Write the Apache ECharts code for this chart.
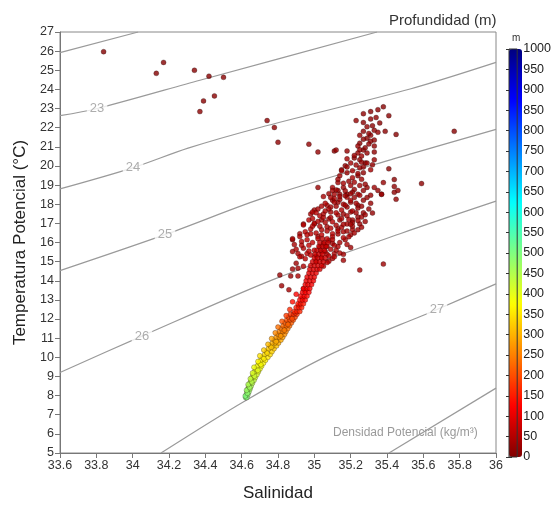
<!DOCTYPE html>
<html lang="es" style="height: 100%">

<head>
    <meta charset="utf-8">
</head>

<body style="height: 100%; margin: 0; background: #ffffff;">
    <div id="container" style="width: 554px; height: 507px"></div>

    <script type="text/javascript" src="https://cdn.jsdelivr.net/npm/echarts@6/dist/echarts.min.js"></script>
    <script type="text/javascript">
        // isopicnas (sigma-theta): [salinidad, temperatura]
        var sigma22 = [[33.6, 25.92], [34.03, 27.0]];
        var sigma23 = [[33.6, 22.63], [33.80, 22.99], [34.37, 24.48], [35.345, 27.0]];
        var sigma24 = [[33.6, 18.80], [34.0, 19.90], [34.305, 20.93], [34.70, 22.01], [35.527, 24.02], [36.0, 25.41]];
        var sigma25 = [[33.6, 14.53], [34.178, 16.41], [34.745, 18.41], [35.527, 20.62], [36.0, 21.91]];
        var sigma26 = [[33.6, 9.21], [34.051, 11.11], [34.783, 14.10], [35.472, 16.46], [36.0, 18.16]];
        var sigma27 = [[34.156, 5.0], [34.618, 7.72], [35.086, 10.14], [35.675, 12.50], [36.0, 13.84]];
        var sigma28 = [[35.411, 5.0], [36.0, 8.39]];
        var isoLines = [sigma22, sigma23, sigma24, sigma25, sigma26, sigma27, sigma28];
        var isoLabels = [[33.804, 22.99, '23'], [34.002, 19.90, '24'], [34.178, 16.41, '25'], [34.051, 11.11, '26'], [35.675, 12.50, '27']];

        // datos CTD: [salinidad, temperatura potencial, profundidad (m)]
        var surfaceOutliers = [
            [33.84, 25.97, 4], [34.13, 24.84, 6], [34.17, 25.41, 5], [34.34, 25.00, 8], [34.42, 24.69, 7], [34.50, 24.63, 10],
            [34.37, 22.84, 12], [34.39, 23.40, 9], [34.45, 23.66, 11], [34.74, 22.37, 14], [34.78, 22.01, 12], [34.80, 21.24, 16],
            [34.97, 21.14, 18], [35.02, 20.73, 20], [35.11, 20.78, 15], [35.12, 20.83, 22], [35.02, 18.88, 25], [35.77, 21.81, 8],
            [35.59, 19.08, 13], [35.45, 18.26, 20], [35.46, 18.72, 18], [35.38, 14.87, 30], [35.25, 14.56, 35], [35.16, 15.07, 32],
            [35.20, 15.74, 28]
        ];
        var upperCloud = [
            [35.38, 23.09, 8], [35.35, 22.94, 12], [35.31, 22.84, 5], [35.27, 22.73, 15], [35.41, 22.63, 10], [35.23, 22.37, 18],
            [35.27, 22.27, 9], [35.34, 22.53, 14], [35.39, 21.81, 11], [35.45, 21.65, 7], [35.33, 21.86, 16], [35.35, 21.76, 20],
            [35.27, 21.81, 13], [35.31, 21.60, 22], [35.29, 21.45, 10], [35.31, 21.29, 25], [35.33, 21.04, 17], [35.25, 21.19, 12],
            [35.24, 21.04, 28], [35.27, 20.83, 19], [35.24, 20.68, 24], [35.22, 20.42, 15], [35.26, 20.52, 30], [35.29, 20.68, 21],
            [35.33, 20.73, 14], [35.33, 20.32, 26], [35.18, 20.78, 20], [35.18, 20.37, 32], [35.25, 20.32, 18], [35.28, 20.16, 27],
            [35.41, 19.85, 12], [35.44, 19.29, 9], [35.44, 18.93, 16], [35.38, 19.13, 22], [35.33, 18.88, 30], [35.37, 18.52, 19],
            [35.44, 18.62, 13], [35.32, 20.06, 24], [35.31, 19.80, 35], [35.15, 19.80, 28], [35.17, 20.01, 22], [35.14, 19.49, 33],
            [35.18, 19.65, 26], [35.21, 19.39, 38], [35.24, 19.49, 21], [35.25, 19.90, 29], [35.27, 19.65, 17], [35.10, 18.88, 40],
            [35.13, 18.72, 32], [35.16, 18.88, 27], [35.20, 18.98, 36], [35.22, 18.77, 23], [35.25, 18.98, 31], [35.29, 18.88, 19],
            [35.13, 19.13, 34], [35.11, 18.52, 42], [35.18, 18.52, 29], [35.24, 18.52, 37], [35.31, 18.47, 25], [35.35, 18.72, 20],
            [35.13, 19.30, 30], [35.16, 19.10, 36], [35.19, 19.20, 24], [35.22, 19.15, 33], [35.26, 19.30, 28], [35.28, 19.05, 22],
            [35.15, 19.75, 31], [35.18, 19.95, 25], [35.21, 19.75, 38], [35.24, 19.60, 27], [35.27, 19.95, 20], [35.29, 20.15, 23],
            [35.20, 20.15, 34], [35.23, 20.05, 29], [35.26, 20.20, 18], [35.22, 20.55, 26], [35.25, 20.85, 21], [35.28, 20.95, 15],
            [35.30, 21.15, 19], [35.27, 21.40, 12], [35.33, 21.35, 16], [35.30, 21.70, 14], [35.25, 21.60, 24], [35.32, 22.10, 11],
            [35.29, 22.05, 17], [35.36, 22.25, 9], [35.31, 22.45, 13]
        ];
        var midCloud = [
            [35.10, 18.72, 35], [35.14, 18.52, 28], [35.18, 18.36, 40], [35.21, 18.62, 24], [35.25, 18.47, 33], [35.27, 18.72, 21],
            [35.37, 18.52, 26], [35.10, 18.21, 38], [35.07, 17.95, 45], [35.13, 18.10, 30], [35.16, 18.00, 41], [35.20, 18.10, 27],
            [35.24, 17.95, 36], [35.27, 18.21, 22], [34.99, 17.59, 48], [35.02, 17.75, 39], [35.05, 17.49, 52], [35.09, 17.59, 33],
            [35.13, 17.44, 44], [35.16, 17.49, 29], [35.20, 17.59, 37], [35.24, 17.33, 25], [35.26, 17.33, 31], [35.30, 17.75, 20],
            [35.32, 17.54, 18], [34.97, 17.18, 55], [35.00, 16.97, 47], [35.04, 17.18, 40], [35.08, 17.23, 35], [35.10, 17.08, 50],
            [35.14, 17.18, 28], [35.18, 16.97, 42], [35.21, 17.18, 33], [35.25, 16.97, 26], [35.21, 16.67, 38], [34.94, 16.92, 50],
            [34.95, 16.56, 58], [34.92, 16.31, 45], [34.88, 16.20, 35], [34.89, 15.89, 40], [34.93, 16.05, 52], [34.98, 16.46, 60],
            [35.02, 16.31, 48], [35.04, 16.67, 44], [35.07, 16.82, 39], [35.10, 16.46, 55], [35.13, 16.72, 32], [35.16, 16.56, 41],
            [35.20, 16.41, 36], [35.24, 16.67, 27], [35.17, 16.15, 46], [35.13, 15.79, 50], [35.10, 15.95, 43], [34.88, 15.53, 38],
            [34.91, 15.43, 42], [34.93, 15.28, 55], [34.96, 15.43, 62], [35.06, 15.53, 58], [35.07, 15.38, 54], [35.10, 15.17, 47],
            [35.11, 15.43, 40], [35.16, 15.38, 36], [35.06, 15.79, 52], [35.05, 14.76, 60], [35.08, 15.02, 50],
            [35.05, 18.40, 36], [35.08, 18.55, 30], [35.11, 18.30, 42], [35.14, 18.25, 34], [35.17, 18.45, 28], [35.20, 18.20, 39],
            [35.22, 18.35, 25], [35.06, 18.05, 47], [35.09, 17.85, 40], [35.12, 17.90, 33], [35.15, 17.70, 45], [35.18, 17.85, 30],
            [35.21, 17.65, 37], [35.24, 17.80, 26], [35.27, 17.55, 22], [35.03, 17.40, 50], [35.06, 17.65, 43], [35.09, 17.30, 38],
            [35.12, 17.55, 46], [35.15, 17.25, 34], [35.18, 17.40, 41], [35.21, 17.05, 29], [35.24, 17.15, 35], [35.00, 17.00, 55],
            [35.03, 16.85, 48], [35.06, 17.05, 42], [35.09, 16.75, 52], [35.12, 16.90, 37], [35.15, 16.80, 44], [35.18, 16.60, 31],
            [35.21, 16.85, 39], [34.98, 16.70, 57], [35.01, 16.50, 50], [35.04, 16.40, 62], [35.07, 16.60, 45], [35.10, 16.30, 53],
            [35.13, 16.45, 40], [35.16, 16.25, 47], [34.96, 16.15, 58], [34.99, 16.00, 64], [35.02, 16.20, 55], [35.05, 15.95, 60],
            [35.08, 16.10, 49], [35.11, 15.85, 44], [35.14, 16.00, 38], [34.94, 15.70, 50], [34.97, 15.85, 62], [35.00, 15.60, 66],
            [35.03, 15.75, 58], [35.09, 15.65, 48], [35.12, 15.60, 42], [34.92, 15.25, 52], [34.95, 15.15, 60], [34.98, 15.35, 68],
            [35.01, 15.05, 64], [35.04, 15.20, 58], [35.07, 14.95, 55]
        ];
        var cloudExtra = [
            [34.96, 16.40, 55], [34.99, 16.85, 50], [35.02, 17.10, 46], [35.05, 17.30, 44], [35.08, 17.75, 40], [35.11, 18.10, 36],
            [35.14, 18.40, 32], [35.17, 18.70, 30], [35.20, 18.55, 28], [35.23, 18.05, 33], [35.26, 17.90, 25], [35.28, 17.45, 28],
            [35.29, 18.35, 21], [35.31, 18.05, 23], [35.23, 17.55, 31], [35.19, 17.20, 37], [35.16, 16.95, 39], [35.13, 16.60, 44],
            [35.10, 16.15, 49], [35.07, 15.80, 54], [35.04, 15.50, 60], [35.01, 15.30, 64], [34.97, 15.55, 58], [34.93, 15.85, 50],
            [34.90, 15.65, 45], [35.19, 16.30, 40], [35.22, 16.50, 34], [35.26, 16.80, 30], [35.28, 17.10, 26], [35.14, 15.45, 45],
            [35.18, 15.90, 42], [35.11, 15.25, 52], [35.08, 15.30, 56], [35.20, 16.95, 35], [35.17, 17.95, 33], [35.12, 18.75, 30],
            [35.09, 18.35, 38], [35.04, 17.90, 45], [35.01, 17.55, 50], [34.99, 17.25, 52]
        ];
        var leftScatter = [
            [34.90, 14.92, 30], [34.91, 14.66, 35], [34.88, 14.61, 28], [34.94, 14.76, 45], [34.87, 14.25, 25], [34.81, 14.30, 22],
            [34.82, 13.74, 30], [34.86, 13.53, 35], [34.91, 14.25, 40], [34.94, 13.58, 50], [34.88, 16.15, 30], [34.92, 16.46, 38],
            [34.94, 16.97, 33], [34.98, 17.49, 40], [35.00, 17.70, 36]
        ];
        var redCore = [
            [34.89, 12.4, 160], [34.905, 12.4, 158], [34.92, 12.4, 162], [34.90, 12.6, 150], [34.915, 12.6, 148], [34.93, 12.6, 152],
            [34.91, 12.8, 145], [34.925, 12.8, 143], [34.94, 12.8, 147], [34.92, 13.0, 135], [34.935, 13.0, 137], [34.95, 13.0, 133],
            [34.925, 13.2, 130], [34.945, 13.2, 128], [34.96, 13.2, 132], [34.935, 13.4, 125], [34.95, 13.4, 123], [34.97, 13.4, 127],
            [34.94, 13.6, 120], [34.96, 13.6, 118], [34.975, 13.6, 122], [34.95, 13.8, 115], [34.965, 13.8, 113], [34.985, 13.8, 117],
            [34.955, 14.0, 110], [34.975, 14.0, 108], [34.995, 14.0, 112], [34.96, 14.2, 105], [34.98, 14.2, 103], [35.0, 14.2, 107],
            [34.97, 14.4, 100], [34.99, 14.4, 98], [35.01, 14.4, 102], [34.975, 14.6, 95], [34.995, 14.6, 93], [35.015, 14.6, 97],
            [35.03, 14.6, 90], [34.98, 14.8, 90], [35.0, 14.8, 88], [35.02, 14.8, 92], [35.04, 14.8, 86], [34.99, 15.0, 85],
            [35.01, 15.0, 83], [35.03, 15.0, 87], [35.05, 15.0, 81], [35.0, 15.2, 80], [35.02, 15.2, 78], [35.04, 15.2, 82],
            [35.06, 15.2, 76], [35.005, 15.4, 75], [35.025, 15.4, 73], [35.045, 15.4, 77], [35.015, 15.6, 72], [35.035, 15.6, 70],
            [35.055, 15.6, 74], [35.025, 15.8, 68], [35.045, 15.8, 66], [35.065, 15.8, 70], [35.03, 16.0, 65], [35.055, 16.0, 63],
            [35.075, 16.0, 67], [35.045, 16.2, 60], [35.07, 16.2, 58]
        ];
        var deepStream = [
            [34.622, 7.9, 500], [34.628, 7.9, 495], [34.626, 8.05, 490], [34.634, 8.05, 488], [34.630, 8.2, 480], [34.640, 8.2, 478],
            [34.634, 8.35, 470], [34.646, 8.35, 468], [34.638, 8.5, 460], [34.652, 8.5, 458], [34.645, 8.65, 450], [34.659, 8.65, 448],
            [34.652, 8.8, 440], [34.668, 8.8, 437], [34.657, 8.95, 425], [34.675, 8.95, 423], [34.664, 9.1, 415], [34.684, 9.1, 412],
            [34.672, 9.25, 405], [34.692, 9.25, 402], [34.679, 9.4, 395], [34.701, 9.4, 392], [34.686, 9.55, 385], [34.710, 9.55, 382],
            [34.696, 9.7, 375], [34.720, 9.7, 372], [34.705, 9.85, 365], [34.731, 9.85, 362], [34.716, 10.0, 355], [34.744, 10.0, 352],
            [34.727, 10.15, 345], [34.757, 10.15, 342], [34.737, 10.3, 335], [34.767, 10.3, 332], [34.748, 10.45, 325], [34.778, 10.45, 322],
            [34.758, 10.6, 315], [34.775, 10.6, 313], [34.792, 10.6, 317], [34.769, 10.75, 300], [34.786, 10.75, 302], [34.803, 10.75, 298],
            [34.780, 10.9, 290], [34.798, 10.9, 288], [34.816, 10.9, 292], [34.790, 11.05, 278], [34.808, 11.05, 276], [34.826, 11.05, 280],
            [34.800, 11.2, 265], [34.818, 11.2, 263], [34.836, 11.2, 267], [34.808, 11.35, 255], [34.826, 11.35, 253], [34.844, 11.35, 257],
            [34.818, 11.5, 242], [34.836, 11.5, 240], [34.854, 11.5, 244], [34.828, 11.65, 230], [34.846, 11.65, 228], [34.864, 11.65, 232],
            [34.838, 11.8, 218], [34.856, 11.8, 216], [34.874, 11.8, 220], [34.848, 11.95, 205], [34.866, 11.95, 203], [34.884, 11.95, 207],
            [34.858, 12.1, 190], [34.876, 12.1, 188], [34.894, 12.1, 192], [34.868, 12.25, 175], [34.886, 12.25, 173], [34.904, 12.25, 177]
        ];
        var deepStreamExtra = [
            [34.620, 7.98, 498], [34.632, 8.12, 486], [34.627, 8.28, 476], [34.644, 8.42, 465], [34.636, 8.58, 455], [34.655, 8.72, 445],
            [34.648, 8.88, 433], [34.670, 9.02, 420], [34.660, 9.18, 410], [34.689, 9.32, 400], [34.668, 9.48, 390], [34.705, 9.62, 380],
            [34.690, 9.78, 370], [34.722, 9.93, 360], [34.700, 10.08, 350], [34.740, 10.22, 340], [34.722, 10.38, 330], [34.762, 10.52, 320],
            [34.745, 10.68, 308], [34.790, 10.82, 296], [34.765, 10.98, 284], [34.815, 11.12, 272], [34.785, 11.28, 260], [34.835, 11.42, 248],
            [34.800, 11.58, 236], [34.855, 11.72, 224], [34.822, 11.88, 210], [34.878, 12.02, 198], [34.845, 12.18, 184], [34.895, 12.32, 170],
            [34.865, 12.5, 165], [34.915, 12.7, 150], [34.88, 12.9, 140], [34.935, 13.1, 132], [34.90, 13.3, 128], [34.95, 13.5, 122]
        ];

        var depthColors = ['#800000', '#ff0000', '#ff8000', '#ffff00', '#80ff80', '#00ffff', '#0080ff', '#0000ff', '#000080'];
        var ctdData = [].concat(deepStream, deepStreamExtra, leftScatter, upperCloud, midCloud, cloudExtra, redCore, surfaceOutliers);

        var dom = document.getElementById('container');
        var myChart = echarts.init(dom, null, { renderer: 'canvas' });

        var fontFam = 'Arial, "Liberation Sans", sans-serif';

        var series = [{
            type: 'scatter',
            data: ctdData,
            symbolSize: 5,
            itemStyle: {
                borderColor: 'rgba(20, 0, 0, 0.55)',
                borderWidth: 0.6
            },
            z: 3,
            silent: true
        }];
        isoLines.forEach(function (pts) {
            series.push({
                type: 'line',
                data: pts,
                smooth: 0.3,
                symbol: 'none',
                lineStyle: { color: '#9a9a9a', width: 1.2 },
                z: 1,
                silent: true
            });
        });
        series.push({
            type: 'scatter',
            data: isoLabels,
            symbolSize: 1,
            itemStyle: { color: 'rgba(0,0,0,0)' },
            label: {
                show: true,
                position: 'inside',
                formatter: function (p) { return p.value[2]; },
                color: '#999',
                fontSize: 13,
                fontFamily: fontFam,
                backgroundColor: '#fff',
                padding: [0, 3]
            },
            z: 2,
            silent: true
        });

        var option = {
            animation: false,
            textStyle: { fontFamily: fontFam },
            title: {
                text: 'Profundidad (m)',
                left: 384,
                top: 8,
                textStyle: { fontSize: 15, fontWeight: 'normal', color: '#333', fontFamily: fontFam }
            },
            graphic: [{
                type: 'text',
                left: 512,
                top: 33,
                style: { text: 'm', fontSize: 10, fill: '#333', fontFamily: fontFam }
            }, {
                type: 'text',
                left: 333,
                top: 427,
                style: { text: 'Densidad Potencial (kg/m³)', fontSize: 12, fill: '#9a9a9a', fontFamily: fontFam }
            }],
            grid: [{
                left: 60, top: 32, width: 436, height: 428,
                show: true, borderColor: '#888', borderWidth: 1
            }, {
                left: 509, top: 49, width: 13, height: 408,
                show: true, borderColor: '#333', borderWidth: 1, z: 5
            }],
            xAxis: [{
                type: 'value',
                min: 33.6, max: 36, interval: 0.2,
                name: 'Salinidad',
                nameLocation: 'middle',
                nameGap: 32,
                nameTextStyle: { fontSize: 17, color: '#222' },
                axisLine: { lineStyle: { color: '#777' } },
                axisTick: { length: 5, lineStyle: { color: '#777' } },
                axisLabel: {
                    fontSize: 12.5, color: '#333', margin: 6,
                    formatter: function (v) { return String(+v.toFixed(1)); }
                },
                splitLine: { show: false }
            }, {
                gridIndex: 1, type: 'value', show: false, min: 0, max: 1
            }],
            yAxis: [{
                type: 'value',
                min: 5, max: 27, interval: 1,
                name: 'Temperatura Potencial (°C)',
                nameLocation: 'middle',
                nameGap: 31,
                nameTextStyle: { fontSize: 17, color: '#222' },
                axisLine: { lineStyle: { color: '#777' } },
                axisTick: { length: 5, lineStyle: { color: '#777' } },
                axisLabel: { fontSize: 12.5, color: '#333', margin: 6 },
                splitLine: { show: false }
            }, {
                gridIndex: 1, type: 'value', position: 'right',
                min: 0, max: 1000, interval: 50,
                axisLine: { show: false },
                axisTick: { inside: true, length: 3, lineStyle: { color: '#333' } },
                axisLabel: {
                    fontSize: 12.5, color: '#222', margin: 6,
                    formatter: function (v) { return String(v); }
                },
                splitLine: { show: false }
            }, {
                gridIndex: 1, type: 'value', position: 'left',
                min: 0, max: 1000, interval: 50,
                axisLine: { show: false },
                axisTick: { inside: true, length: 3, lineStyle: { color: '#333' } },
                axisLabel: { show: false },
                splitLine: { show: false }
            }],
            visualMap: {
                type: 'continuous',
                seriesIndex: 0,
                dimension: 2,
                min: 0,
                max: 1000,
                calculable: false,
                left: 509,
                top: 49,
                padding: 0,
                itemWidth: 13,
                itemHeight: 408,
                inRange: { color: depthColors }
            },
            series: series
        };

        myChart.setOption(option);
        window.addEventListener('resize', myChart.resize);
    </script>
</body>

</html>
